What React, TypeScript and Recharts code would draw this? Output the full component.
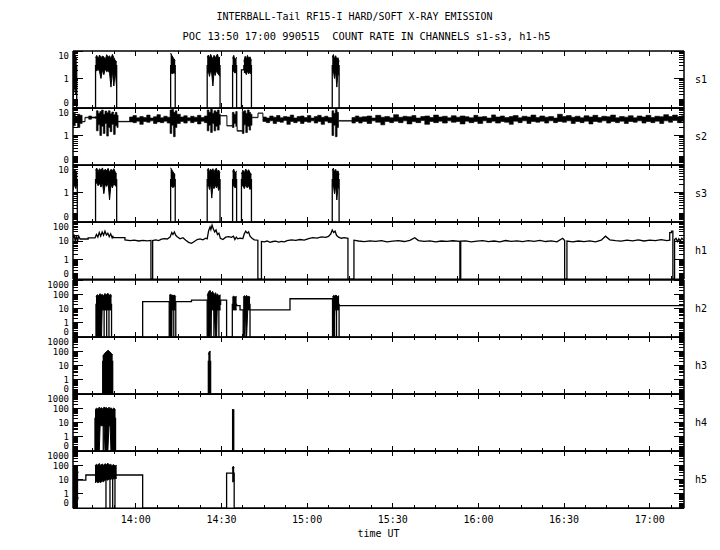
import React from 'react'
import { ComposedChart, Line, Area, XAxis, YAxis, ReferenceLine } from 'recharts'

// time axis: minutes after 13:00 UT
const T_START = 38
const T_END = 252

const timeTicks = [45, 52.5, 60, 67.5, 75, 82.5, 90, 97.5, 105, 112.5, 120, 127.5, 135, 142.5, 150, 157.5, 165, 172.5, 180, 187.5, 195, 202.5, 210, 217.5, 225, 232.5, 240, 247.5]
const majorTimes = [60, 90, 120, 150, 180, 210, 240]
const timeLabels = ['14:00', '14:30', '15:00', '15:30', '16:00', '16:30', '17:00']

const yLabelValues = [0, 1, 10, 100, 1000]
const yLabelTexts = ['0', '1', '10', '100', '1000']

const channelNames = ['s1', 's2', 's3', 'h1', 'h2', 'h3', 'h4', 'h5']
const channelDecades = [1, 1, 1, 2, 3, 3, 3, 3]

// ---- s1 ----  line: [t, count], bursts: [t, low, high]
const s1Line = [[38, 3], [39.3, 3], [39.3, 0], [45.9, 0], [45.9, 3], [53.3, 3], [53.3, 0], [72.2, 0], [72.2, 3], [73.8, 3], [73.8, 0], [85.0, 0], [85.0, 3], [89.5, 3], [89.5, 0], [93.9, 0], [93.9, 3], [95.3, 3], [95.3, 0], [97.0, 0], [97.0, 2.1], [97.85, 2.1], [97.85, 3], [100.5, 3], [100.5, 0], [128.8, 0], [128.8, 3], [131.2, 3], [131.2, 0], [252, 0]]
const s1Start = [[38, 0.1, 7.0], [38.5, 0.5, 9.0], [39.0, 0.2, 6.0], [39.3, 1.0, 5.0]]
const s1BurstA = [[45.9, 2.2, 5.8], [46.3, 1.9, 7.0], [46.8, 2.3, 5.2], [47.3, 1.8, 7.2], [47.8, 1.0, 5.8], [48.3, 2.1, 6.6], [48.8, 1.4, 6.2], [49.3, 2.3, 4.8], [49.8, 1.8, 7.4], [50.3, 2.0, 6.0], [50.8, 1.6, 6.8], [51.3, 0.45, 5.2], [51.8, 2.0, 7.6], [52.3, 0.5, 5.8], [52.8, 1.9, 4.6], [53.3, 0.4, 4.2]]
const s1BurstB = [[72.2, 1.5, 8.5], [72.6, 1.6, 7.0], [73.0, 1.5, 6.0], [73.4, 1.8, 5.2], [73.8, 1.5, 4.5]]
const s1BurstC = [[85.0, 1.6, 6.0], [85.4, 1.9, 7.2], [85.8, 1.2, 5.5], [86.2, 2.0, 7.6], [86.6, 1.5, 6.2], [87.0, 0.5, 5.0], [87.4, 1.8, 7.0], [87.8, 1.3, 5.6], [88.2, 2.0, 6.6], [88.6, 1.6, 7.8], [89.0, 1.4, 5.4], [89.5, 1.2, 6.2]]
const s1BurstD = [[93.9, 1.7, 5.5], [94.3, 2.0, 7.0], [94.7, 1.6, 4.8], [95.3, 1.8, 6.0]]
const s1BurstE = [[97.85, 1.6, 4.2], [98.3, 1.8, 6.5], [98.7, 1.4, 5.0], [99.1, 1.9, 7.0], [99.5, 1.5, 5.5], [100.0, 1.7, 6.2], [100.5, 1.4, 4.5]]
const s1BurstF = [[128.8, 1.6, 6.0], [129.2, 1.9, 7.5], [129.6, 1.0, 5.2], [130.0, 1.8, 6.8], [130.4, 0.45, 5.0], [130.8, 1.6, 5.8], [131.2, 1.3, 4.2]]

// ---- s2 ---- (stepped band: [t, low, high])
const s2Band = [
  [38.0, 2.3, 6.5], [38.8, 3.0, 5.0], [39.6, 2.0, 6.0], [40.4, 2.8, 5.5], [41.2, 3.2, 3.3], [42.2, 4.5, 4.7], [43.5, 4.0, 5.2], [44.5, 4.4, 4.8], [45.7, 4.3, 4.9],
  [46.2, 1.5, 8.0], [46.8, 2.5, 6.5], [47.4, 1.0, 7.5], [48.0, 2.2, 8.5], [48.6, 1.2, 6.0], [49.2, 2.8, 7.8], [49.8, 0.95, 6.8], [50.4, 2.0, 8.0], [51.0, 1.4, 6.2], [51.6, 2.6, 7.2], [52.2, 1.1, 5.8], [52.8, 2.3, 7.0], [53.4, 2.0, 5.5],
  [53.8, 3.2, 3.35],
  [57.8, 3.2, 4.8], [59.0, 3.0, 5.4], [60.2, 3.4, 4.5], [61.4, 2.6, 5.0], [62.6, 3.3, 4.6], [63.8, 3.1, 5.6], [65.0, 3.5, 4.4], [66.2, 2.8, 4.9], [67.4, 3.2, 5.8], [68.6, 3.0, 4.5], [69.8, 3.4, 5.1], [71.0, 2.9, 4.7],
  [72.0, 1.2, 8.5], [72.6, 2.4, 9.0], [73.2, 0.9, 7.0], [73.8, 2.0, 8.0], [74.4, 2.8, 6.0],
  [75.6, 3.3, 4.8], [76.8, 2.9, 5.3], [78.0, 3.5, 4.5], [79.2, 3.0, 5.1], [80.4, 3.3, 4.7], [81.6, 2.7, 5.5], [82.8, 3.4, 4.6], [84.0, 3.0, 5.2],
  [85.0, 1.5, 8.5], [85.6, 2.4, 7.0], [86.2, 1.3, 9.0], [86.8, 2.8, 6.5], [87.4, 1.5, 8.0], [88.0, 2.2, 7.2], [88.6, 1.6, 8.5], [89.2, 2.5, 6.0],
  [89.6, 5.2, 5.4], [91.9, 2.25, 2.35],
  [93.8, 2.0, 7.0], [94.4, 2.8, 6.0], [95.0, 2.2, 7.5],
  [95.5, 1.45, 1.55],
  [97.3, 1.2, 7.5], [97.9, 2.5, 8.0], [98.5, 1.3, 6.5], [99.1, 2.2, 8.5], [99.7, 1.6, 7.0], [100.2, 2.4, 6.0],
  [100.7, 4.5, 4.7], [102.8, 6.5, 6.7],
  [104.5, 3.3, 4.8], [105.7, 3.0, 4.4], [106.9, 3.5, 5.2], [108.1, 2.8, 4.7], [109.3, 3.3, 5.4], [110.5, 3.1, 4.5], [111.7, 3.6, 5.0], [112.9, 2.6, 4.8], [114.1, 3.3, 5.6], [115.3, 3.0, 4.4], [116.5, 3.4, 5.0], [117.7, 2.8, 5.2], [118.9, 3.3, 4.6], [120.1, 3.1, 5.4], [121.3, 3.5, 4.4], [122.5, 2.9, 5.0], [123.7, 3.3, 5.5], [124.9, 2.6, 4.7], [126.1, 3.4, 5.1], [127.3, 3.0, 4.6],
  [128.7, 1.0, 8.0], [129.3, 2.4, 6.5], [129.9, 0.9, 8.8], [130.5, 2.0, 7.0],
  [131.0, 3.4, 3.6],
  [135.7, 2.9, 4.6], [136.9, 3.3, 5.2], [138.1, 2.9, 4.7],
  [139.3, 3.3, 4.9], [141.0, 2.8, 5.2], [142.6, 3.5, 4.4], [144.0, 3.1, 5.5], [145.8, 2.5, 4.7], [147.2, 3.3, 5.0], [148.9, 3.0, 4.5], [150.3, 3.4, 5.8], [152.0, 3.0, 4.7], [153.6, 3.5, 5.1], [155.0, 2.7, 4.9], [156.7, 3.3, 5.4], [158.1, 3.0, 4.4], [159.8, 3.6, 5.0], [161.2, 2.6, 5.2], [162.9, 3.3, 4.6], [164.3, 3.0, 5.6], [166.0, 3.4, 4.8], [167.4, 2.9, 5.1], [169.1, 3.5, 4.5],
  [170.5, 3.1, 5.3], [172.2, 3.3, 4.7], [173.6, 2.7, 5.2], [175.3, 3.4, 4.9], [176.7, 3.0, 4.5], [178.4, 3.3, 5.5], [179.8, 2.8, 4.8], [181.5, 3.5, 5.0], [182.9, 3.0, 4.4], [184.6, 3.4, 5.7], [186.0, 2.9, 4.8], [187.7, 3.3, 5.2], [189.1, 3.1, 4.6], [190.8, 2.6, 5.0], [192.2, 3.4, 5.4], [193.9, 3.0, 4.5], [195.3, 3.5, 5.1], [197.0, 2.8, 4.8], [198.4, 3.3, 5.6], [200.1, 3.1, 4.6],
  [201.5, 3.4, 5.2], [203.2, 2.9, 4.7], [204.6, 3.5, 5.0], [206.3, 3.0, 4.4], [207.7, 3.3, 6.0], [209.4, 3.1, 5.0], [210.8, 3.5, 5.4], [212.5, 2.8, 4.7], [213.9, 3.3, 5.1], [215.6, 3.0, 4.5], [217.0, 3.4, 5.3], [218.7, 2.7, 4.8], [220.1, 3.3, 5.5], [221.8, 3.1, 4.6], [223.2, 3.5, 5.1], [224.9, 2.9, 4.9], [226.3, 3.3, 5.6], [228.0, 3.0, 4.5], [229.4, 3.4, 5.0], [231.1, 2.8, 4.7],
  [232.5, 3.3, 5.3], [234.2, 3.1, 4.5], [235.6, 3.5, 5.2], [237.3, 2.9, 4.8], [238.7, 3.3, 5.5], [240.4, 3.0, 4.6], [241.8, 3.4, 5.1], [243.5, 2.8, 4.9], [244.9, 3.5, 5.8], [246.6, 3.1, 5.0], [248.0, 3.6, 5.6], [249.7, 3.0, 4.9], [251.1, 3.4, 5.3], [252.0, 3.1, 5.0],
]

// ---- s3 ----
const s3Line = [[38, 3], [39.5, 3], [39.5, 0], [45.9, 0], [45.9, 3], [53.3, 3], [53.3, 0], [72.2, 0], [72.2, 3], [73.8, 3], [73.8, 0], [85.0, 0], [85.0, 3], [89.5, 3], [89.5, 0], [93.9, 0], [93.9, 3], [95.3, 3], [95.3, 0], [97.0, 0], [97.0, 3], [100.5, 3], [100.5, 0], [128.8, 0], [128.8, 3], [131.2, 3], [131.2, 0], [252, 0]]
const s3Start = [[38, 1.2, 5.5], [38.5, 2.0, 7.0], [39.0, 1.4, 6.0], [39.5, 2.5, 5.0]]
const s3BurstA = [[45.9, 2.0, 6.5], [46.3, 2.4, 7.8], [46.8, 1.8, 5.8], [47.3, 2.2, 7.4], [47.8, 1.6, 6.4], [48.3, 2.4, 7.9], [48.8, 0.9, 5.6], [49.3, 2.1, 7.2], [49.8, 1.7, 6.1], [50.3, 2.3, 7.6], [50.8, 0.5, 5.4], [51.3, 2.0, 7.0], [51.8, 1.5, 6.3], [52.3, 2.2, 7.4], [52.8, 1.8, 5.6], [53.3, 1.6, 5.0]]
const s3BurstB = [[72.2, 1.6, 8.0], [72.6, 1.8, 6.8], [73.0, 1.5, 5.8], [73.4, 1.9, 5.0], [73.8, 1.6, 4.6]]
const s3BurstC = [[85.0, 1.7, 6.4], [85.4, 2.0, 7.6], [85.8, 1.3, 5.6], [86.2, 2.1, 7.2], [86.6, 0.6, 6.0], [87.0, 1.8, 7.4], [87.4, 1.4, 5.4], [87.8, 2.0, 6.9], [88.2, 1.5, 7.7], [88.6, 1.9, 5.8], [89.0, 1.2, 6.6], [89.5, 1.5, 5.2]]
const s3BurstD = [[93.9, 1.6, 5.8], [94.3, 1.9, 7.2], [94.7, 1.5, 5.0], [95.3, 1.7, 6.2]]
const s3BurstE = [[97.0, 1.6, 4.8], [97.5, 1.9, 6.6], [98.0, 1.4, 5.2], [98.5, 2.0, 7.2], [99.0, 1.5, 5.8], [99.5, 1.8, 6.8], [100.0, 1.3, 5.4], [100.5, 1.5, 4.6]]
const s3BurstF = [[128.8, 1.7, 6.4], [129.2, 1.9, 7.8], [129.6, 0.9, 5.6], [130.0, 1.8, 7.0], [130.4, 0.5, 5.2], [130.8, 1.6, 6.2], [131.2, 1.4, 4.5]]

// ---- h1 ----
const h1Line = [
  [38, 14], [38.4, 22], [38.8, 9], [39.2, 20], [39.6, 10], [40.0, 18], [40.5, 12.8], [43.3, 12.8], [43.3, 14.5], [45.7, 14.5],
  [46.2, 22], [46.7, 16], [47.2, 28], [47.7, 18], [48.2, 30], [48.7, 20], [49.2, 33], [49.7, 21], [50.2, 26], [50.7, 17], [51.2, 24], [51.7, 15], [52.0, 19],
  [52.0, 15], [56.2, 15], [56.2, 11.5], [58.0, 10.5], [59.5, 11.2], [61.0, 10.0], [62.5, 10.8], [64.0, 10.2], [65.3, 10.8],
  [65.3, 0], [65.9, 0], [65.9, 10.5], [67, 11.5], [68, 10.5], [69, 12.5], [70, 13.5], [71, 12.8], [72, 16],
  [72.6, 28], [73.0, 22], [73.5, 30], [74.0, 20], [74.5, 17], [75.5, 13], [76.5, 15], [77.5, 11], [78.5, 8.5], [79.5, 7.6], [80.5, 9.5], [81.5, 12],
  [82.5, 13], [83.5, 11.5], [84.5, 14], [85.0, 13], [85.5, 35], [86.0, 55], [86.3, 40], [86.7, 69], [87.1, 45],
  [87.6, 30], [88.1, 38], [88.6, 22], [89.1, 26], [89.6, 14], [90.5, 12], [91.5, 16], [92.5, 17], [93.5, 15.5],
  [94.2, 18], [94.7, 12], [95.2, 16], [95.7, 13], [96.5, 14], [97.5, 13.5], [98.0, 24], [98.5, 33], [99.0, 26], [99.5, 30], [100.0, 18], [100.7, 14],
  [101.5, 11.5], [102.75, 11], [102.75, 0], [104.0, 0], [104.0, 9.5],
  [105, 9.0], [106, 10], [107, 8.5], [108, 9.4], [109, 9.8], [110, 8.8], [111, 9.5], [112, 9.0], [113, 10.5], [114.5, 11.5], [116, 10.8], [117.5, 12], [119, 11.2], [120.5, 13.5], [122, 15], [123.5, 14.2], [125, 16.5], [126.5, 15.5], [127.5, 17.5],
  [128.3, 24], [128.8, 38], [129.3, 28], [129.8, 33], [130.3, 20], [131.0, 16], [132, 14], [133, 15], [134.3, 14],
  [134.3, 0], [136.4, 0], [136.4, 11],
  [138, 10], [140, 9.2], [142, 10.2], [144, 9.6], [146, 10.5], [148, 9.0], [150, 9.8], [152, 10.4], [154, 9.4], [156, 10.8], [157.7, 15], [159, 10.5], [161, 9.5], [163, 10.2], [165, 9.0], [167, 10.0], [169, 9.5], [171, 10.3], [173.5, 9.6],
  [173.5, 0], [173.8, 0], [173.8, 9.8],
  [175.5, 10.2], [177.5, 9.0], [179.5, 9.8], [181.5, 10.5], [183.5, 9.3], [185.5, 10.0], [187.5, 9.1], [189.5, 10.6], [191.5, 9.5], [193.5, 10.1], [195.5, 9.2], [197.5, 10.4], [199.5, 9.6], [201.5, 10.8], [203.5, 9.4], [205.5, 10.2], [207.5, 9.0], [209.5, 14], [210.2, 10.5],
  [210.2, 0], [211.0, 0], [211.0, 10],
  [213, 9.0], [215, 10.0], [217, 9.3], [219, 10.2], [221, 9.1], [223, 11], [224.5, 18], [226, 11.5],
  [228, 10.5], [230, 9.8], [232, 11], [234, 10.2], [236, 11.5], [238, 10.0], [240, 11.2], [242, 10.4], [244, 11.8], [246, 10.6], [247.0, 11],
  [247.0, 28], [247.6, 28], [247.6, 33], [248.1, 33], [248.1, 0], [248.7, 0], [248.7, 12],
  [249.2, 14], [249.7, 9.5], [250.2, 13], [250.7, 10], [251.2, 14], [252, 11],
]

// ---- h2 ----
const h2Line = [
  [38, 0], [46.05, 0], [46.05, 20], [48.9, 20], [48.9, 0], [48.9, 20], [49.8, 20], [49.8, 0], [49.8, 20], [50.6, 20], [50.6, 0], [50.6, 20], [51.5, 20], [51.5, 0],
  [62.4, 0], [62.4, 31], [71.7, 31], [71.7, 0], [72.6, 0], [72.6, 20], [73.3, 20], [73.3, 0], [73.3, 20], [74.0, 20], [74.0, 0], [74.0, 31], [79.5, 31], [79.5, 39], [85.0, 39],
  [85.0, 0], [86.4, 0], [86.4, 20], [87.35, 20], [87.35, 0], [87.35, 20], [89.1, 20], [89.1, 0], [89.1, 20], [89.7, 20], [89.7, 39], [91.8, 39], [91.8, 0],
  [93.8, 0], [93.8, 20], [95.3, 20], [95.3, 16], [96.5, 16], [96.5, 8], [97.6, 8], [97.6, 0], [98.6, 0], [98.6, 20], [100.0, 20], [100.0, 0], [100.0, 8],
  [114.0, 8], [114.0, 49], [128.9, 49], [128.9, 0], [129.6, 0], [129.6, 20], [130.3, 20], [130.3, 0], [130.3, 20], [131.2, 20], [131.2, 0], [131.2, 16], [252, 16],
]
const h2BurstA = [[46.05, 0, 70], [46.5, 0, 95], [47.0, 0, 80], [47.5, 0, 110], [48.0, 0, 85], [48.2, 8, 100], [48.7, 8, 75], [49.2, 8, 115], [49.7, 8, 90], [50.2, 8, 120], [50.7, 8, 85], [51.2, 8, 100], [51.5, 8, 70]]
const h2BurstB = [[71.7, 0, 85], [72.1, 0, 100], [72.5, 0, 80], [72.6, 8, 95], [73.0, 8, 75], [73.5, 8, 90], [74.0, 8, 70]]
const h2BurstC = [[85.0, 0, 80], [85.5, 0, 150], [86.0, 0, 190], [86.4, 8, 120], [86.9, 8, 160], [87.4, 8, 90], [87.9, 0, 130], [88.3, 0, 70], [88.5, 8, 110], [89.0, 8, 80], [89.7, 8, 90]]
const h2BurstD = [[93.8, 8, 60], [94.2, 8, 75], [94.7, 8, 65], [95.3, 8, 70]]
const h2BurstE = [[97.6, 0, 60], [98.0, 0, 80], [98.4, 8, 70], [98.8, 0, 85], [99.2, 8, 65], [99.6, 8, 75], [100.0, 8, 60]]
const h2BurstF = [[128.9, 0, 70], [129.3, 0, 85], [129.7, 8, 75], [130.1, 8, 90], [130.6, 8, 70], [131.2, 8, 80]]

// ---- h3 ----
const h3Line = [[38, 0], [48.4, 0], [48.4, 20], [51.9, 20], [51.9, 0], [85.4, 0], [85.4, 20], [86.2, 20], [86.2, 0], [252, 0]]
const h3BurstA = [[48.4, 0, 45], [48.8, 0, 60], [49.2, 0, 75], [49.6, 0, 90], [50.0, 0, 105], [50.3, 0, 120], [50.7, 0, 100], [51.1, 0, 85], [51.5, 0, 70], [51.9, 0, 55]]
const h3BurstB = [[85.4, 0, 60], [85.7, 0, 95], [86.2, 0, 100]]

// ---- h4 ----
const h4Line = [[38, 0], [45.7, 0], [45.7, 20], [48.6, 20], [48.6, 0], [48.6, 20], [52.9, 20], [52.9, 0], [93.9, 0], [93.9, 80], [94.3, 78], [94.3, 0], [252, 0]]
const h4BurstA = [[45.7, 0, 80], [46.2, 0, 100], [46.7, 0, 90], [47.2, 0, 120], [47.5, 6, 95], [48.0, 6, 110], [48.5, 6, 85], [48.9, 6, 125], [49.2, 0, 100], [49.7, 0, 115], [50.2, 0, 90], [50.6, 6, 120], [51.0, 6, 95], [51.3, 0, 110], [51.8, 0, 85], [52.3, 0, 105], [52.9, 0, 80]]

// ---- h5 ----
const h5Line = [[38, 9], [42.5, 9], [42.5, 21], [45.7, 21], [49.55, 21], [49.55, 0], [49.55, 21], [50.95, 21], [50.95, 0], [50.95, 21], [51.9, 21], [51.9, 0], [51.9, 21], [52.7, 21], [52.7, 0], [52.7, 21], [62.4, 21], [62.4, 0], [91.8, 0], [91.8, 28], [93.75, 28], [94.45, 28], [94.45, 0], [252, 0]]
const h5Start = [[38, 0, 70], [38.6, 0, 40], [39.2, 0, 90], [39.8, 0.5, 30]]
const h5BurstA = [[45.7, 6, 90], [46.2, 7, 120], [46.7, 6, 100], [47.2, 7, 135], [47.7, 6, 95], [48.2, 8, 125], [48.7, 7, 100], [49.2, 9, 130], [49.7, 10, 110], [50.2, 9, 140], [50.7, 11, 105], [51.2, 10, 120], [51.7, 12, 95], [52.2, 11, 115], [52.7, 12, 90], [53.3, 12, 100]]
const h5BurstD = [[93.75, 7, 60], [94.1, 7, 85], [94.45, 8, 70]]

const panelLines = [s1Line, [], s3Line, h1Line, h2Line, h3Line, h4Line, h5Line]
const panelBands = [
  [s1Start, s1BurstA, s1BurstB, s1BurstC, s1BurstD, s1BurstE, s1BurstF],
  [s2Band],
  [s3Start, s3BurstA, s3BurstB, s3BurstC, s3BurstD, s3BurstE, s3BurstF],
  [],
  [h2BurstA, h2BurstB, h2BurstC, h2BurstD, h2BurstE, h2BurstF],
  [h3BurstA, h3BurstB],
  [h4BurstA],
  [h5Start, h5BurstA, h5BurstD],
]
// s2 is a stepped histogram, the bursts are drawn point to point
const panelBandType = ['linear', 'stepAfter', 'linear', 'linear', 'linear', 'linear', 'linear', 'linear']

const FONT = "'DejaVu Sans Mono', monospace"
const PL = 73
const PR = 684
const PAD = 6
const PH = 57.25
const TOP0 = 50.5

// y is drawn as log10(count + 0.1) so that zero sits on the floor
const ylog = (v: number) => Math.log10(v + 0.1)

const toLine = (pts: number[][]) => pts.map(([t, v]) => ({ t, y: ylog(v) }))
const toBand = (pts: number[][]) => pts.map(([t, lo, hi]) => ({ t, r: [ylog(lo), ylog(hi)] }))

function logTicks(dec: number) {
  const out = [ylog(0)]
  for (let n = -2; n < dec; n++) {
    for (let k = 1; k <= 9; k++) out.push(ylog(k * 10 ** n))
  }
  out.push(ylog(10 ** dec))
  return out
}

function makeYTick(dec: number, side: 'l' | 'r') {
  const yMax = ylog(10 ** dec)
  const majors = yLabelValues.slice(0, dec + 2).map((v, i) => ({ pos: ylog(v), lab: yLabelTexts[i] }))
  return (props: any) => {
    const { y, payload } = props
    const m = majors.find((q) => Math.abs(q.pos - payload.value) < 1e-9)
    const len = m ? 10 : 5
    if (side === 'r') {
      return <line x1={PR} x2={PR - len} y1={y} y2={y} stroke="#000" strokeWidth={1} shapeRendering="crispEdges" />
    }
    let dy = 3.3
    if (m && m.lab === '0') dy = -2.5
    else if (m && Math.abs(m.pos - yMax) < 1e-9) dy = 8
    return (
      <g>
        <line x1={PL} x2={PL + len} y1={y} y2={y} stroke="#000" strokeWidth={1} shapeRendering="crispEdges" />
        {m && (
          <text x={69} y={y + dy} textAnchor="end" fontSize={9} fontFamily={FONT} fill="#000">
            {m.lab}
          </text>
        )}
      </g>
    )
  }
}

function makeXTick(withLabels: boolean) {
  return (props: any) => {
    const { x, payload } = props
    const i = majorTimes.indexOf(payload.value)
    const len = i >= 0 ? 5 : 3
    return (
      <g>
        <line x1={x} x2={x} y1={PAD + PH} y2={PAD + PH - len} stroke="#000" strokeWidth={1} shapeRendering="crispEdges" />
        <line x1={x} x2={x} y1={PAD} y2={PAD + len} stroke="#000" strokeWidth={1} shapeRendering="crispEdges" />
        {withLabels && i >= 0 && (
          <text x={x} y={PAD + PH + 15} textAnchor="middle" fontSize={10} fontFamily={FONT} fill="#000">
            {timeLabels[i]}
          </text>
        )}
      </g>
    )
  }
}

function Panel({ idx }: { idx: number }) {
  const last = idx === channelNames.length - 1
  const dec = channelDecades[idx]
  const yMax = ylog(10 ** dec)
  const extra = last ? 40 : 0
  const ticks = logTicks(dec)
  const line = toLine(panelLines[idx])
  const bands = panelBands[idx].map(toBand)
  const stepped = panelBandType[idx] === 'stepAfter'
  const axisStyle = { stroke: '#000', strokeWidth: 1.5 }
  return (
    <div style={{ position: 'absolute', left: 0, top: TOP0 + idx * PH - PAD }}>
      <ComposedChart
        width={720}
        height={PH + 2 * PAD + extra}
        margin={{ top: PAD, right: 0, bottom: PAD - 1 + extra, left: 0 }}
      >
        <XAxis
          type="number"
          dataKey="t"
          domain={[T_START, T_END]}
          ticks={timeTicks}
          interval={0}
          height={1}
          allowDataOverflow
          tickLine={false}
          axisLine={axisStyle}
          tick={makeXTick(last)}
        />
        <YAxis
          yAxisId="l"
          type="number"
          domain={[-1, yMax]}
          ticks={ticks}
          interval={0}
          width={PL}
          allowDataOverflow
          tickLine={false}
          axisLine={axisStyle}
          tick={makeYTick(dec, 'l')}
        />
        <YAxis
          yAxisId="r"
          orientation="right"
          type="number"
          domain={[-1, yMax]}
          ticks={ticks}
          interval={0}
          width={720 - PR}
          allowDataOverflow
          tickLine={false}
          axisLine={axisStyle}
          tick={makeYTick(dec, 'r')}
        />
        <ReferenceLine yAxisId="l" y={yMax} stroke="#000" strokeWidth={1.5} />
        {bands.map((b, i) => (
          <Area
            key={i}
            yAxisId="l"
            data={b}
            dataKey="r"
            type={panelBandType[idx] as any}
            stroke="#000"
            strokeWidth={stepped ? 0.6 : 1}
            fill="#000"
            fillOpacity={1}
            dot={false}
            activeDot={false}
            isAnimationActive={false}
          />
        ))}
        {line.length > 0 && (
          <Line
            yAxisId="l"
            data={line}
            dataKey="y"
            type="linear"
            stroke="#000"
            strokeWidth={1.3}
            dot={false}
            activeDot={false}
            isAnimationActive={false}
          />
        )}
      </ComposedChart>
    </div>
  )
}

export default function App() {
  return (
    <div style={{ position: 'absolute', left: 0, top: 0, width: 720, height: 550, background: '#fff' }}>
      {channelNames.map((_, i) => (
        <Panel key={i} idx={i} />
      ))}
      <svg width={720} height={550} style={{ position: 'absolute', left: 0, top: 0, pointerEvents: 'none' }}>
        <text x={216.5} y={20} fontSize={11} fontFamily={FONT} textLength={276} lengthAdjust="spacingAndGlyphs" fill="#000">
          INTERBALL-Tail RF15-I HARD/SOFT X-RAY EMISSION
        </text>
        <text x={182.5} y={40} fontSize={11} fontFamily={FONT} textLength={368} lengthAdjust="spacingAndGlyphs" fill="#000" style={{ whiteSpace: 'pre' }}>
          {'POC 13:50 17:00 990515  COUNT RATE IN CHANNELS s1-s3, h1-h5'}
        </text>
        {channelNames.map((n, i) => (
          <text key={n} x={695} y={TOP0 + i * PH + PH / 2 + 3.5} fontSize={10} fontFamily={FONT} fill="#000">
            {n}
          </text>
        ))}
        <text x={378.5} y={537} textAnchor="middle" fontSize={10} fontFamily={FONT} fill="#000">
          time UT
        </text>
      </svg>
    </div>
  )
}
